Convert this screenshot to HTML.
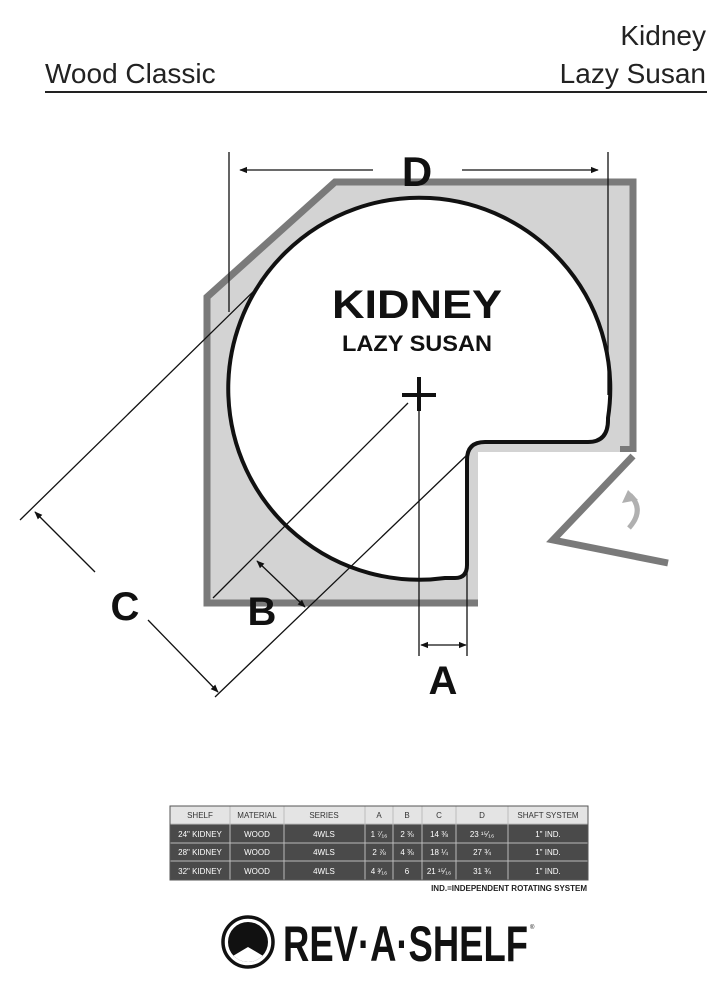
<!DOCTYPE html>
<html><head><meta charset="utf-8"><style>
html,body{margin:0;padding:0;background:#fff;}
svg{display:block;}
text{font-family:"Liberation Sans",sans-serif;}
</style></head><body>
<svg width="726" height="990" viewBox="0 0 726 990" xmlns="http://www.w3.org/2000/svg">
<defs>
<marker id="ah" viewBox="0 0 10 10" refX="9" refY="5" markerWidth="8" markerHeight="8" orient="auto-start-reverse" markerUnits="userSpaceOnUse"><path d="M0,1 L10,5 L0,9 Z" fill="#111"/></marker>
<clipPath id="disc"><circle cx="248" cy="942" r="20"/></clipPath>
</defs>
<text x="45" y="83" font-size="28" fill="#222">Wood Classic</text>
<text x="706" y="45" font-size="28" fill="#222" text-anchor="end">Kidney</text>
<text x="706" y="83" font-size="28" fill="#222" text-anchor="end">Lazy Susan</text>
<line x1="45" y1="92" x2="707" y2="92" stroke="#222" stroke-width="2"/>

<path d="M335,182 L633,182 L633,452 L478,452 L478,603 L207,603 L207,297 Z" fill="#d3d3d3"/>
<path d="M608,418 A191,191 0 1 0 445,578 L455,578 Q467,578 467,565 L467,460 Q467,442 485,442 L588,442 Q608,442 608,420 Z" fill="#fff" stroke="#111" stroke-width="4"/>
<path d="M478,603 L207,603 L207,297 L335,182 L633,182 L633,452" fill="none" stroke="#7a7a7a" stroke-width="7"/>
<line x1="620" y1="449" x2="636" y2="449" stroke="#7a7a7a" stroke-width="6"/>
<polyline points="633,456 553,540 668,563" fill="none" stroke="#7a7a7a" stroke-width="7"/>
<path d="M629,528 Q645,510 630,495" fill="none" stroke="#b0b0b0" stroke-width="5"/>
<path d="M622,503 L628,490 L638,500 Z" fill="#b0b0b0"/>

<g stroke="#111" stroke-width="1.3" fill="none">
<line x1="229" y1="152" x2="229" y2="312"/>
<line x1="608" y1="152" x2="608" y2="395"/>
<line x1="373" y1="170" x2="240" y2="170" marker-end="url(#ah)"/>
<line x1="462" y1="170" x2="598" y2="170" marker-end="url(#ah)"/>
<line x1="20" y1="520" x2="262" y2="283"/>
<line x1="213" y1="598" x2="408" y2="403"/>
<line x1="215" y1="697" x2="467" y2="455"/>
<line x1="419" y1="400" x2="419" y2="656"/>
<line x1="467" y1="460" x2="467" y2="656"/>
<line x1="95" y1="572" x2="35" y2="512" marker-end="url(#ah)"/>
<line x1="148" y1="620" x2="218" y2="692" marker-end="url(#ah)"/>
<line x1="281" y1="584" x2="257" y2="561" marker-end="url(#ah)"/>
<line x1="281" y1="584" x2="305" y2="607" marker-end="url(#ah)"/>
<line x1="443" y1="645" x2="421" y2="645" marker-end="url(#ah)"/>
<line x1="443" y1="645" x2="466" y2="645" marker-end="url(#ah)"/>
</g>
<g stroke="#111" stroke-width="4">
<line x1="402" y1="395" x2="436" y2="395"/>
<line x1="419" y1="377" x2="419" y2="411"/>
</g>
<g font-weight="bold" fill="#111" text-anchor="middle">
<text x="417" y="186" font-size="42">D</text>
<text x="125" y="620" font-size="40">C</text>
<text x="262" y="625" font-size="40">B</text>
<text x="443" y="694" font-size="40">A</text>
<text x="417" y="318" font-size="40" textLength="170" lengthAdjust="spacingAndGlyphs">KIDNEY</text>
<text x="417" y="351" font-size="22" textLength="150" lengthAdjust="spacingAndGlyphs">LAZY SUSAN</text>
</g>

<rect x="170" y="806" width="418" height="18" fill="#e4e4e4"/>
<rect x="170" y="824" width="418" height="56" fill="#4a4a4a"/>
<g stroke="#bbb" stroke-width="1">
<line x1="170" y1="824" x2="588" y2="824"/>
<line x1="170" y1="843" x2="588" y2="843"/>
<line x1="170" y1="861" x2="588" y2="861"/>
<line x1="230" y1="806" x2="230" y2="880"/><line x1="284" y1="806" x2="284" y2="880"/>
<line x1="365" y1="806" x2="365" y2="880"/><line x1="393" y1="806" x2="393" y2="880"/>
<line x1="422" y1="806" x2="422" y2="880"/><line x1="456" y1="806" x2="456" y2="880"/>
<line x1="508" y1="806" x2="508" y2="880"/>
</g>
<rect x="170" y="806" width="418" height="74" fill="none" stroke="#555" stroke-width="1"/>
<g font-size="8" text-anchor="middle" fill="#333">
<text x="200" y="818">SHELF</text><text x="257" y="818">MATERIAL</text><text x="324" y="818">SERIES</text>
<text x="379" y="818">A</text><text x="407" y="818">B</text><text x="439" y="818">C</text><text x="482" y="818">D</text><text x="548" y="818">SHAFT SYSTEM</text>
</g>
<g font-size="8" text-anchor="middle" fill="#fff">
<text x="200" y="837">24" KIDNEY</text><text x="257" y="837">WOOD</text><text x="324" y="837">4WLS</text>
<text x="379" y="837">1 ⁷⁄₁₆</text><text x="407" y="837">2 ⅜</text><text x="439" y="837">14 ⅜</text><text x="482" y="837">23 ¹⁵⁄₁₆</text><text x="548" y="837">1" IND.</text>
<text x="200" y="855">28" KIDNEY</text><text x="257" y="855">WOOD</text><text x="324" y="855">4WLS</text>
<text x="379" y="855">2 ⅞</text><text x="407" y="855">4 ⅜</text><text x="439" y="855">18 ¼</text><text x="482" y="855">27 ¾</text><text x="548" y="855">1" IND.</text>
<text x="200" y="874">32" KIDNEY</text><text x="257" y="874">WOOD</text><text x="324" y="874">4WLS</text>
<text x="379" y="874">4 ³⁄₁₆</text><text x="407" y="874">6</text><text x="439" y="874">21 ¹⁵⁄₁₆</text><text x="482" y="874">31 ¾</text><text x="548" y="874">1" IND.</text>
</g>
<text x="587" y="891" font-size="8" font-weight="bold" text-anchor="end" fill="#222">IND.=INDEPENDENT ROTATING SYSTEM</text>

<circle cx="248" cy="942" r="25" fill="none" stroke="#111" stroke-width="3.5"/>
<circle cx="248" cy="942" r="20" fill="#111"/>
<path d="M226,965 L226,960 L248,947 L270,960 L270,965 Z" fill="#fff" clip-path="url(#disc)"/>
<text x="283" y="961" font-size="50" font-weight="bold" fill="#111" textLength="245" lengthAdjust="spacingAndGlyphs">REV·A·SHELF</text>
<text x="530" y="929" font-size="6" fill="#111">®</text>
</svg>
</body></html>
